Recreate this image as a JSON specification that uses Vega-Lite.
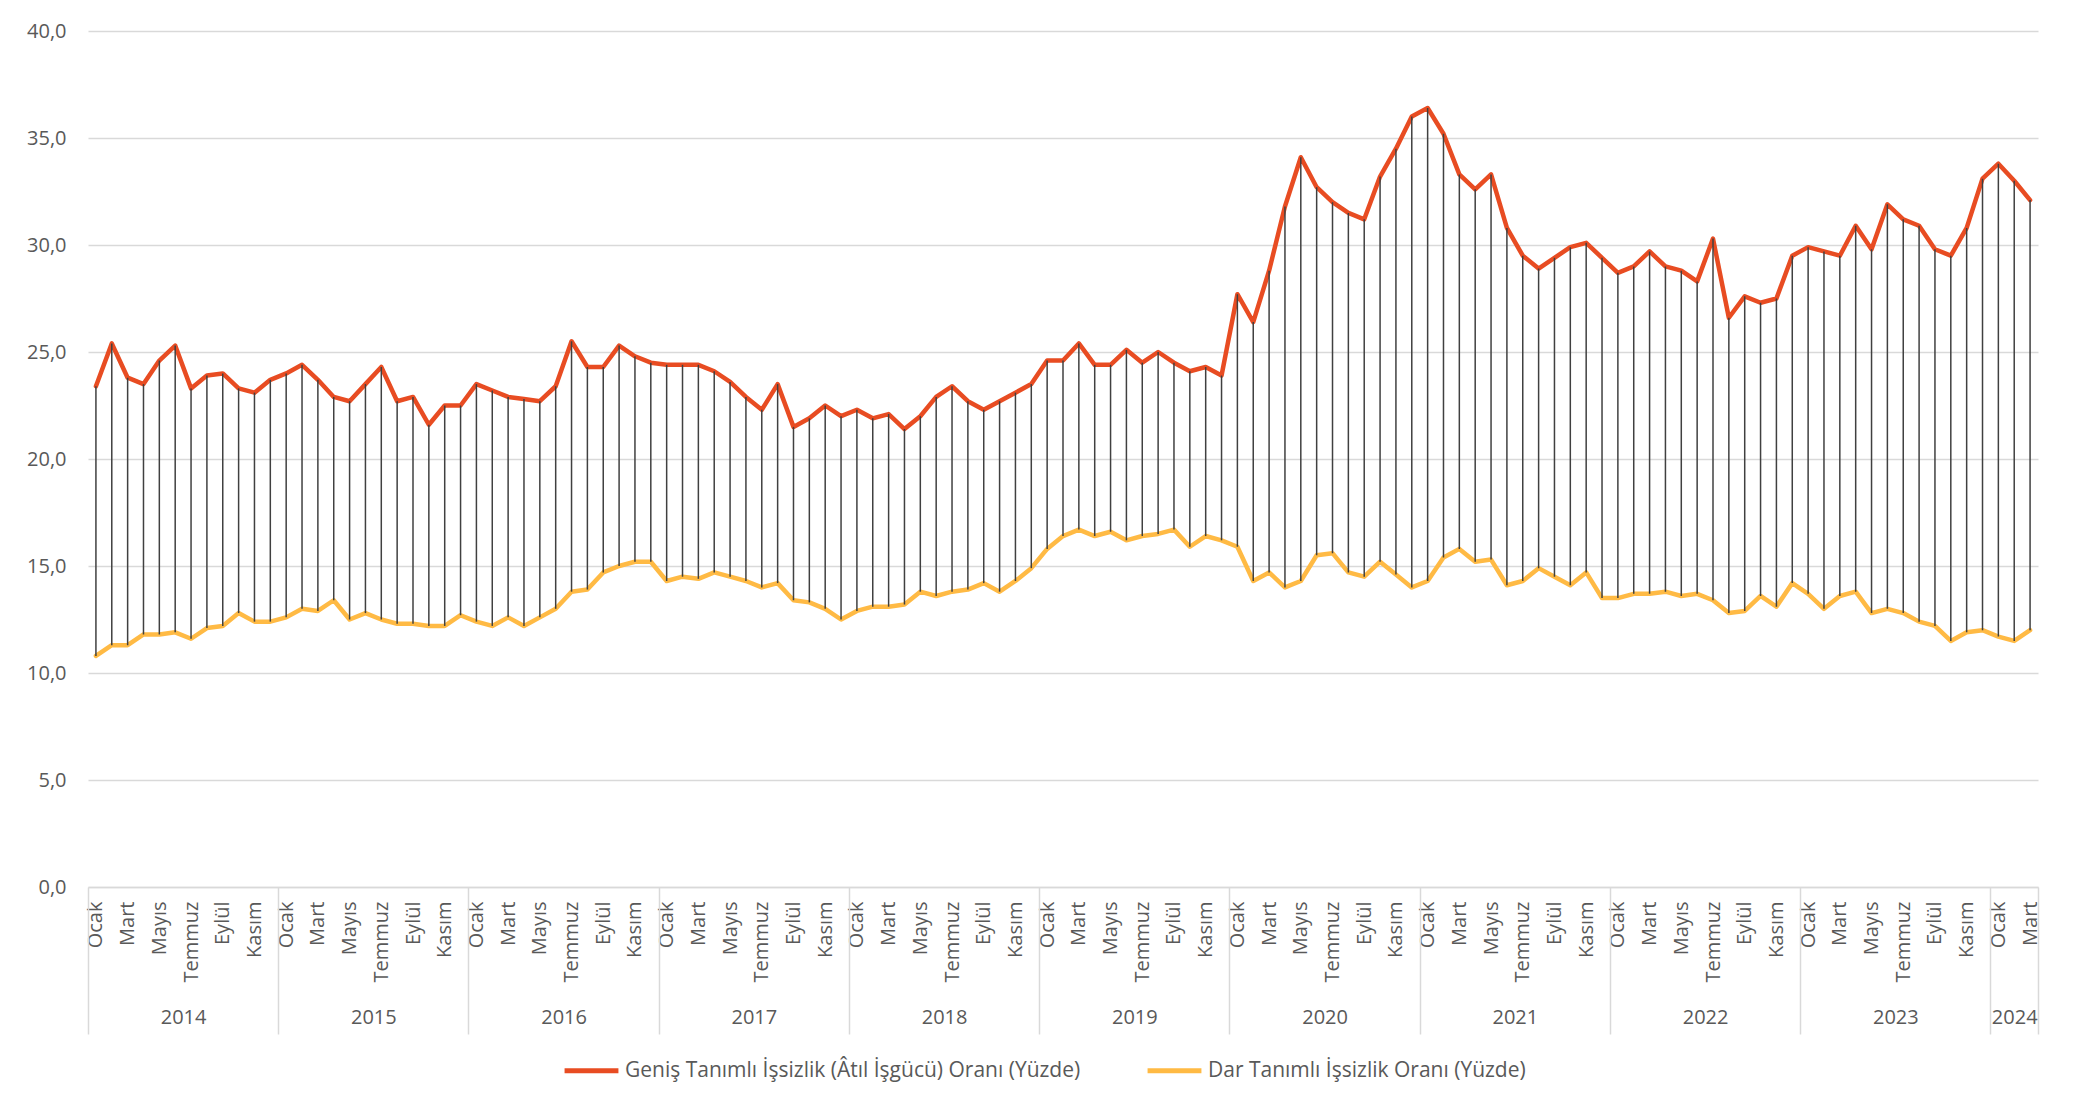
{
  "$schema": "https://vega.github.io/schema/vega-lite/v6.json",
  "width": 1950,
  "height": 856,
  "autosize": {"type": "none"},
  "padding": {"left": 88, "top": 31, "right": 47, "bottom": 222},
  "background": "white",
  "config": {
    "view": {"stroke": null},
    "font": "Open Sans",
    "axis": {"labelColor": "#595959", "labelFont": "Open Sans", "labelFontSize": 20}
  },
  "datasets": {
    "aylik": [
      {"t": "2014-01", "g": 23.4, "d": 10.8}, {"t": "2014-02", "g": 25.4, "d": 11.3}, {"t": "2014-03", "g": 23.8, "d": 11.3},
      {"t": "2014-04", "g": 23.5, "d": 11.8}, {"t": "2014-05", "g": 24.6, "d": 11.8}, {"t": "2014-06", "g": 25.3, "d": 11.9},
      {"t": "2014-07", "g": 23.3, "d": 11.6}, {"t": "2014-08", "g": 23.9, "d": 12.1}, {"t": "2014-09", "g": 24.0, "d": 12.2},
      {"t": "2014-10", "g": 23.3, "d": 12.8}, {"t": "2014-11", "g": 23.1, "d": 12.4}, {"t": "2014-12", "g": 23.7, "d": 12.4},
      {"t": "2015-01", "g": 24.0, "d": 12.6}, {"t": "2015-02", "g": 24.4, "d": 13.0}, {"t": "2015-03", "g": 23.7, "d": 12.9},
      {"t": "2015-04", "g": 22.9, "d": 13.4}, {"t": "2015-05", "g": 22.7, "d": 12.5}, {"t": "2015-06", "g": 23.5, "d": 12.8},
      {"t": "2015-07", "g": 24.3, "d": 12.5}, {"t": "2015-08", "g": 22.7, "d": 12.3}, {"t": "2015-09", "g": 22.9, "d": 12.3},
      {"t": "2015-10", "g": 21.6, "d": 12.2}, {"t": "2015-11", "g": 22.5, "d": 12.2}, {"t": "2015-12", "g": 22.5, "d": 12.7},
      {"t": "2016-01", "g": 23.5, "d": 12.4}, {"t": "2016-02", "g": 23.2, "d": 12.2}, {"t": "2016-03", "g": 22.9, "d": 12.6},
      {"t": "2016-04", "g": 22.8, "d": 12.2}, {"t": "2016-05", "g": 22.7, "d": 12.6}, {"t": "2016-06", "g": 23.4, "d": 13.0},
      {"t": "2016-07", "g": 25.5, "d": 13.8}, {"t": "2016-08", "g": 24.3, "d": 13.9}, {"t": "2016-09", "g": 24.3, "d": 14.7},
      {"t": "2016-10", "g": 25.3, "d": 15.0}, {"t": "2016-11", "g": 24.8, "d": 15.2}, {"t": "2016-12", "g": 24.5, "d": 15.2},
      {"t": "2017-01", "g": 24.4, "d": 14.3}, {"t": "2017-02", "g": 24.4, "d": 14.5}, {"t": "2017-03", "g": 24.4, "d": 14.4},
      {"t": "2017-04", "g": 24.1, "d": 14.7}, {"t": "2017-05", "g": 23.6, "d": 14.5}, {"t": "2017-06", "g": 22.9, "d": 14.3},
      {"t": "2017-07", "g": 22.3, "d": 14.0}, {"t": "2017-08", "g": 23.5, "d": 14.2}, {"t": "2017-09", "g": 21.5, "d": 13.4},
      {"t": "2017-10", "g": 21.9, "d": 13.3}, {"t": "2017-11", "g": 22.5, "d": 13.0}, {"t": "2017-12", "g": 22.0, "d": 12.5},
      {"t": "2018-01", "g": 22.3, "d": 12.9}, {"t": "2018-02", "g": 21.9, "d": 13.1}, {"t": "2018-03", "g": 22.1, "d": 13.1},
      {"t": "2018-04", "g": 21.4, "d": 13.2}, {"t": "2018-05", "g": 22.0, "d": 13.8}, {"t": "2018-06", "g": 22.9, "d": 13.6},
      {"t": "2018-07", "g": 23.4, "d": 13.8}, {"t": "2018-08", "g": 22.7, "d": 13.9}, {"t": "2018-09", "g": 22.3, "d": 14.2},
      {"t": "2018-10", "g": 22.7, "d": 13.8}, {"t": "2018-11", "g": 23.1, "d": 14.3}, {"t": "2018-12", "g": 23.5, "d": 14.9},
      {"t": "2019-01", "g": 24.6, "d": 15.8}, {"t": "2019-02", "g": 24.6, "d": 16.4}, {"t": "2019-03", "g": 25.4, "d": 16.7},
      {"t": "2019-04", "g": 24.4, "d": 16.4}, {"t": "2019-05", "g": 24.4, "d": 16.6}, {"t": "2019-06", "g": 25.1, "d": 16.2},
      {"t": "2019-07", "g": 24.5, "d": 16.4}, {"t": "2019-08", "g": 25.0, "d": 16.5}, {"t": "2019-09", "g": 24.5, "d": 16.7},
      {"t": "2019-10", "g": 24.1, "d": 15.9}, {"t": "2019-11", "g": 24.3, "d": 16.4}, {"t": "2019-12", "g": 23.9, "d": 16.2},
      {"t": "2020-01", "g": 27.7, "d": 15.9}, {"t": "2020-02", "g": 26.4, "d": 14.3}, {"t": "2020-03", "g": 28.8, "d": 14.7},
      {"t": "2020-04", "g": 31.8, "d": 14.0}, {"t": "2020-05", "g": 34.1, "d": 14.3}, {"t": "2020-06", "g": 32.7, "d": 15.5},
      {"t": "2020-07", "g": 32.0, "d": 15.6}, {"t": "2020-08", "g": 31.5, "d": 14.7}, {"t": "2020-09", "g": 31.2, "d": 14.5},
      {"t": "2020-10", "g": 33.2, "d": 15.2}, {"t": "2020-11", "g": 34.5, "d": 14.6}, {"t": "2020-12", "g": 36.0, "d": 14.0},
      {"t": "2021-01", "g": 36.4, "d": 14.3}, {"t": "2021-02", "g": 35.2, "d": 15.4}, {"t": "2021-03", "g": 33.3, "d": 15.8},
      {"t": "2021-04", "g": 32.6, "d": 15.2}, {"t": "2021-05", "g": 33.3, "d": 15.3}, {"t": "2021-06", "g": 30.8, "d": 14.1},
      {"t": "2021-07", "g": 29.5, "d": 14.3}, {"t": "2021-08", "g": 28.9, "d": 14.9}, {"t": "2021-09", "g": 29.4, "d": 14.5},
      {"t": "2021-10", "g": 29.9, "d": 14.1}, {"t": "2021-11", "g": 30.1, "d": 14.7}, {"t": "2021-12", "g": 29.4, "d": 13.5},
      {"t": "2022-01", "g": 28.7, "d": 13.5}, {"t": "2022-02", "g": 29.0, "d": 13.7}, {"t": "2022-03", "g": 29.7, "d": 13.7},
      {"t": "2022-04", "g": 29.0, "d": 13.8}, {"t": "2022-05", "g": 28.8, "d": 13.6}, {"t": "2022-06", "g": 28.3, "d": 13.7},
      {"t": "2022-07", "g": 30.3, "d": 13.4}, {"t": "2022-08", "g": 26.6, "d": 12.8}, {"t": "2022-09", "g": 27.6, "d": 12.9},
      {"t": "2022-10", "g": 27.3, "d": 13.6}, {"t": "2022-11", "g": 27.5, "d": 13.1}, {"t": "2022-12", "g": 29.5, "d": 14.2},
      {"t": "2023-01", "g": 29.9, "d": 13.7}, {"t": "2023-02", "g": 29.7, "d": 13.0}, {"t": "2023-03", "g": 29.5, "d": 13.6},
      {"t": "2023-04", "g": 30.9, "d": 13.8}, {"t": "2023-05", "g": 29.8, "d": 12.8}, {"t": "2023-06", "g": 31.9, "d": 13.0},
      {"t": "2023-07", "g": 31.2, "d": 12.8}, {"t": "2023-08", "g": 30.9, "d": 12.4}, {"t": "2023-09", "g": 29.8, "d": 12.2},
      {"t": "2023-10", "g": 29.5, "d": 11.5}, {"t": "2023-11", "g": 30.8, "d": 11.9}, {"t": "2023-12", "g": 33.1, "d": 12.0},
      {"t": "2024-01", "g": 33.8, "d": 11.7}, {"t": "2024-02", "g": 33.0, "d": 11.5}, {"t": "2024-03", "g": 32.1, "d": 12.0}
    ],
    "yillar": [
      {"yil": "2014", "bas": 0, "orta": 6}, {"yil": "2015", "bas": 12, "orta": 18}, {"yil": "2016", "bas": 24, "orta": 30},
      {"yil": "2017", "bas": 36, "orta": 42}, {"yil": "2018", "bas": 48, "orta": 54}, {"yil": "2019", "bas": 60, "orta": 66},
      {"yil": "2020", "bas": 72, "orta": 78}, {"yil": "2021", "bas": 84, "orta": 90}, {"yil": "2022", "bas": 96, "orta": 102},
      {"yil": "2023", "bas": 108, "orta": 114}, {"yil": "2024", "bas": 120, "orta": 121.5}
    ]
  },
  "layer": [
    {
      "data": {"name": "aylik"},
      "layer": [
        {
          "transform": [{"fold": ["g", "d"], "as": ["seri", "deger"]}],
          "mark": {"type": "line", "strokeWidth": 4.5, "strokeJoin": "round", "strokeCap": "round"},
          "encoding": {
            "x": {
              "field": "t", "type": "ordinal", "sort": null,
              "scale": {"type": "point", "padding": 0.5},
              "axis": {
                "orient": "bottom", "title": null, "ticks": false, "tickSize": 0, "grid": false,
                "domain": true, "domainColor": "#D9D9D9", "domainWidth": 1.5,
                "labelAngle": -90, "labelPadding": 14, "labelOverlap": false, "labelBound": false,
                "labelExpr": "indexof(['01','03','05','07','09','11'], substring(datum.value,5,7)) >= 0 ? ['Ocak','Şubat','Mart','Nisan','Mayıs','Haziran','Temmuz','Ağustos','Eylül','Ekim','Kasım','Aralık'][toNumber(substring(datum.value,5,7))-1] : ''"
              }
            },
            "y": {
              "field": "deger", "type": "quantitative",
              "scale": {"domain": [0, 40], "nice": false},
              "axis": {
                "title": null, "values": [0, 5, 10, 15, 20, 25, 30, 35, 40],
                "domain": false, "ticks": false, "tickSize": 0, "labelPadding": 22,
                "gridColor": "#D9D9D9", "gridWidth": 1.5,
                "labelExpr": "replace(format(datum.value, '.1f'), '.', ',')"
              }
            },
            "color": {
              "field": "seri", "type": "nominal",
              "scale": {"domain": ["g", "d"], "range": ["#E84C22", "#FFBA44"]},
              "legend": {
                "title": null, "orient": "none", "legendX": 474, "legendY": 1010,
                "direction": "horizontal", "symbolType": "stroke", "symbolStrokeWidth": 5,
                "symbolSize": 2900, "labelFontSize": 21, "labelColor": "#595959", "labelFont": "Open Sans",
                "labelOffset": 4, "columnPadding": 56, "labelLimit": 0,
                "labelExpr": "datum.value == 'g' ? 'Geniş Tanımlı İşsizlik (Âtıl İşgücü) Oranı (Yüzde)' : 'Dar Tanımlı İşsizlik Oranı (Yüzde)'"
              }
            }
          }
        },
        {
          "mark": {"type": "rule", "color": "#404040", "strokeWidth": 1.5},
          "encoding": {
            "x": {"field": "t", "type": "ordinal", "sort": null, "scale": {"type": "point", "padding": 0.5}},
            "y": {"field": "d", "type": "quantitative"},
            "y2": {"field": "g"}
          }
        }
      ]
    },
    {
      "data": {"name": "yillar"},
      "mark": {"type": "rule", "opacity": 0},
      "encoding": {
        "x": {
          "field": "bas", "type": "quantitative",
          "scale": {"domain": [0, 123], "nice": false, "zero": false},
          "axis": {
            "orient": "bottom", "title": null, "values": [0, 12, 24, 36, 48, 60, 72, 84, 96, 108, 120, 123],
            "labels": false, "grid": false, "domain": false, "ticks": true,
            "tickSize": 147, "tickColor": "#D9D9D9", "tickWidth": 1.5
          }
        }
      }
    },
    {
      "data": {"name": "yillar"},
      "mark": {"type": "rule", "opacity": 0},
      "encoding": {
        "x": {
          "field": "orta", "type": "quantitative",
          "scale": {"domain": [0, 123], "nice": false, "zero": false},
          "axis": {
            "orient": "bottom", "title": null, "values": [6, 18, 30, 42, 54, 66, 78, 90, 102, 114, 121.5],
            "grid": false, "domain": false, "ticks": false, "tickSize": 0,
            "labelPadding": 120, "labelFontSize": 20, "labelOverlap": false,
            "labelExpr": "toString(2014 + floor(datum.value / 12))"
          }
        }
      }
    }
  ],
  "resolve": {"scale": {"x": "independent"}}
}
